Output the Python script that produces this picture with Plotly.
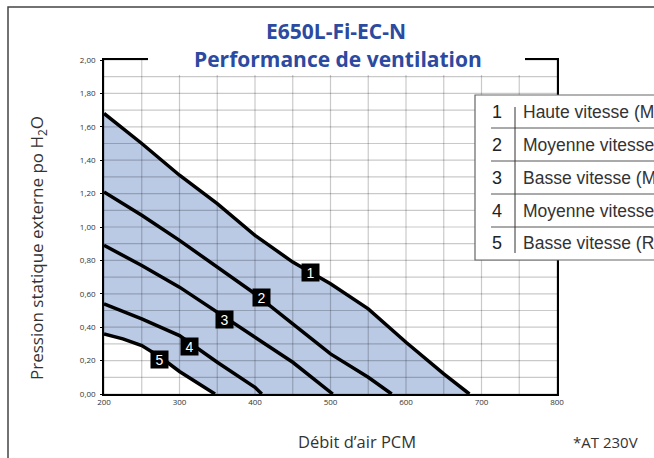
import plotly.graph_objects as go

# ---------------- data ----------------
flow_1 = [200, 250, 300, 350, 400, 450, 500, 550, 600, 650, 684]
pres_1 = [1.68, 1.50, 1.31, 1.14, 0.95, 0.79, 0.66, 0.51, 0.31, 0.12, 0.00]

flow_2 = [200, 250, 300, 350, 400, 450, 500, 550, 581]
pres_2 = [1.21, 1.07, 0.92, 0.76, 0.60, 0.42, 0.24, 0.10, 0.00]

flow_3 = [200, 250, 300, 350, 400, 450, 503]
pres_3 = [0.89, 0.77, 0.64, 0.49, 0.34, 0.19, 0.00]

flow_4 = [200, 250, 300, 350, 400, 409]
pres_4 = [0.54, 0.45, 0.35, 0.19, 0.04, 0.00]

flow_5 = [200, 225, 250, 275, 300, 325, 347]
pres_5 = [0.36, 0.33, 0.29, 0.22, 0.135, 0.06, 0.00]

curve_ids = ["1", "2", "3", "4", "5"]
label_flow = [473, 408, 359, 313, 273]
label_pres = [0.73, 0.575, 0.445, 0.285, 0.205]

legend_names = [
    "Haute vitesse (MAX)",
    "Moyenne vitesse (MAX)",
    "Basse vitesse (MAX)",
    "Moyenne vitesse (REC)",
    "Basse vitesse (REC)",
]

x_ticks = [200, 300, 400, 500, 600, 700, 800]
y_ticks = [0.0, 0.2, 0.4, 0.6, 0.8, 1.0, 1.2, 1.4, 1.6, 1.8, 2.0]
x_grid = list(range(200, 801, 50))
y_grid = [i / 10 for i in range(0, 21)]

title_1 = "E650L-Fi-EC-N"
title_2 = "Performance de ventilation"
x_title = "Débit d’air PCM"
y_title = "Pression statique externe po H<sub>2</sub>O"
note = "*AT 230V"

# ---------------- layout geometry ----------------
W, H = 654, 458
L, R, T, B = 104, 557, 60, 394  # plot area in pixels


def px(x):
    return (x - L) / (R - L)


def py(y):
    return (B - y) / (B - T)


BLUE_FILL = "#bac9e4"
TITLE_BLUE = "#2b4aa0"

fig = go.Figure()

# shaded operating region (between curve 1 and curve 5)
fig.add_trace(go.Scatter(
    x=flow_1 + flow_5[::-1], y=pres_1 + pres_5[::-1],
    fill="toself", fillcolor=BLUE_FILL, mode="none", hoverinfo="skip",
    showlegend=False))

# grid drawn over the fill (darker where it crosses the blue area)
gx, gy = [], []
for v in x_grid:
    gx += [v, v, None]
    gy += [0, 2, None]
for v in y_grid:
    gx += [200, 800, None]
    gy += [v, v, None]
fig.add_trace(go.Scatter(x=gx, y=gy, mode="lines",
                         line=dict(color="rgba(0,0,0,0.21)", width=1.2),
                         hoverinfo="skip", showlegend=False))

for fx, fy in [(flow_1, pres_1), (flow_2, pres_2), (flow_3, pres_3),
               (flow_4, pres_4), (flow_5, pres_5)]:
    fig.add_trace(go.Scatter(x=fx, y=fy, mode="lines",
                             line=dict(color="black", width=3.5),
                             showlegend=False))

annotations = []
# curve number boxes
for cid, lx, ly in zip(curve_ids, label_flow, label_pres):
    annotations.append(dict(x=lx, y=ly, xref="x", yref="y", text=cid,
                            showarrow=False, bgcolor="black", width=17, height=17,
                            borderpad=0, xanchor="center", yanchor="middle",
                            font=dict(family="Liberation Sans", size=14, color="white")))


def paper_text(x, y, text, font, **kw):
    d = dict(x=px(x), y=py(y), xref="paper", yref="paper", text=text,
             showarrow=False, xanchor="center", yanchor="middle", font=font)
    d.update(kw)
    return d


# title
annotations.append(paper_text(336, 31, title_1,
                              dict(family="Open Sans", size=21, color=TITLE_BLUE, weight=700)))
annotations.append(paper_text(338, 59, title_2,
                              dict(family="Open Sans", size=21, color=TITLE_BLUE, weight=700)))

# axis titles
annotations.append(paper_text(37, 248, y_title,
                              dict(family="Open Sans", size=17, color="#333"), textangle=-90))
annotations.append(paper_text(357, 441, x_title,
                              dict(family="Open Sans", size=16.5, color="#333")))
annotations.append(paper_text(605, 442, note,
                              dict(family="Open Sans", size=15, color="#333")))

# legend table
row_top = 95
row_h = 33
for i, (cid, name) in enumerate(zip(curve_ids, legend_names)):
    cy = row_top + row_h * (i + 0.5)
    annotations.append(paper_text(497, cy, cid,
                                  dict(family="Liberation Sans", size=18, color="#222")))
    annotations.append(paper_text(521, cy, name,
                                  dict(family="Liberation Sans", size=17.5, color="#333"),
                                  xanchor="left"))

shapes = []
# outer frame
shapes.append(dict(type="rect", xref="paper", yref="paper",
                   x0=px(8), x1=px(720), y0=py(520), y1=py(7),
                   line=dict(color="#444", width=1.5), fillcolor="rgba(0,0,0,0)",
                   layer="above"))
# white box behind the title (interrupts top border / grid)
shapes.append(dict(type="rect", xref="paper", yref="paper",
                   x0=px(148), x1=px(525), y0=py(75), y1=py(12),
                   line=dict(width=0), fillcolor="white", layer="above"))
# legend box
shapes.append(dict(type="rect", xref="paper", yref="paper",
                   x0=px(475), x1=px(720), y0=py(row_top + 5 * row_h), y1=py(row_top),
                   line=dict(color="#666", width=1.2), fillcolor="white", layer="above"))
for i in range(1, 5):
    yy = row_top + row_h * i
    shapes.append(dict(type="line", xref="paper", yref="paper",
                       x0=px(491), x1=px(720), y0=py(yy), y1=py(yy),
                       line=dict(color="#555", width=1), layer="above"))
shapes.append(dict(type="line", xref="paper", yref="paper",
                   x0=px(515), x1=px(515), y0=py(row_top + 12), y1=py(row_top + 5 * row_h - 7),
                   line=dict(color="#333", width=1), layer="above"))

fig.update_layout(
    width=W, height=H,
    margin=dict(l=L, r=W - R, t=T, b=H - B),
    paper_bgcolor="white", plot_bgcolor="white",
    separators=", ",
    showlegend=False,
    annotations=annotations,
    shapes=shapes,
    xaxis=dict(range=[200, 800], tickvals=x_ticks, showgrid=False, zeroline=False,
               showline=True, linecolor="black", linewidth=1.5, mirror=True,
               ticks="", layer="above traces",
               tickfont=dict(family="Open Sans", size=8, color="#333")),
    yaxis=dict(range=[0, 2], tickvals=y_ticks, tickformat=".2f", showgrid=False,
               zeroline=False, showline=True, linecolor="black", linewidth=1.5,
               mirror=True, ticks="outside", ticklen=2, tickcolor="black",
               layer="above traces", ticklabelstandoff=3,
               tickfont=dict(family="Open Sans", size=8, color="#333")),
)

fig.write_html("out.html", config={"displayModeBar": False},
               post_script="document.body.style.margin='0';")
